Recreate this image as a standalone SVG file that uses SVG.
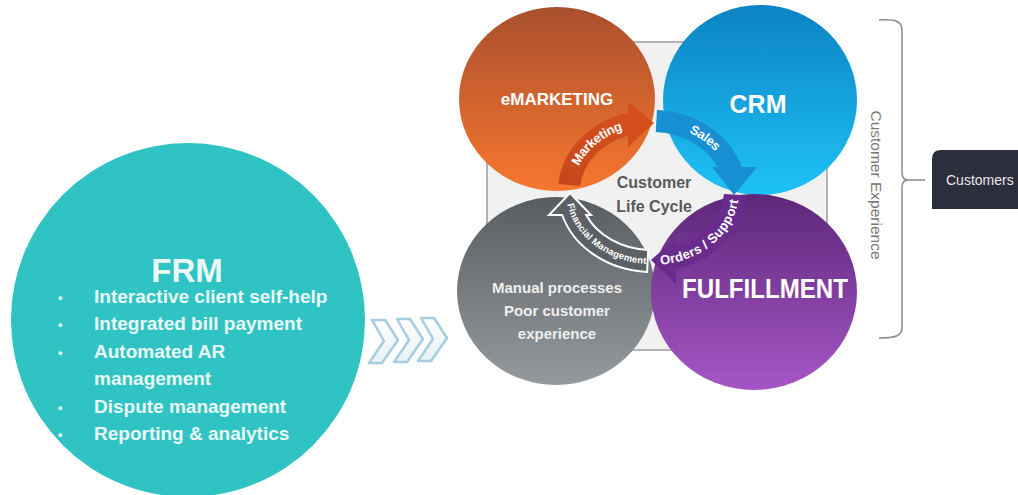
<svg xmlns="http://www.w3.org/2000/svg" width="1018" height="495" viewBox="0 0 1018 495">
<style>
.b{font-family:"Liberation Sans",Arial,sans-serif;font-weight:bold}
.r{font-family:"Liberation Sans",Arial,sans-serif}
.frmt{fill:#eaf8f8;font-size:19px}
.bul{fill:#eaf8f8;font-size:13px}
.circ-t{fill:#ffffff}
.man{fill:#eeeeee;font-size:15px}
.lbl{fill:#ffffff;font-size:13px}
.chev{fill:url(#gChev);stroke:#a6cde0;stroke-width:2.5;stroke-linejoin:round}
</style>
<defs>
<linearGradient id="gOr" x1="0" y1="0" x2="0" y2="1"><stop offset="0" stop-color="#a94f2d"/><stop offset="1" stop-color="#f7772f"/></linearGradient>
<linearGradient id="gBl" x1="0" y1="0" x2="0" y2="1"><stop offset="0" stop-color="#0b83c2"/><stop offset="1" stop-color="#1ec2f6"/></linearGradient>
<linearGradient id="gGr" x1="0" y1="0" x2="0" y2="1"><stop offset="0" stop-color="#595d62"/><stop offset="1" stop-color="#959a9f"/></linearGradient>
<linearGradient id="gPu" x1="0" y1="0" x2="0" y2="1"><stop offset="0" stop-color="#5c2779"/><stop offset="1" stop-color="#a656c6"/></linearGradient>
<linearGradient id="gChev" x1="0" y1="0" x2="0" y2="1"><stop offset="0" stop-color="#ffffff"/><stop offset="1" stop-color="#e6f1f7"/></linearGradient>
<linearGradient id="gMk" x1="0" y1="1" x2="1" y2="0"><stop offset="0" stop-color="#c7461c"/><stop offset="1" stop-color="#d9521f"/></linearGradient>
<path id="chev" d="M3,0 H16 L29,20 L13,43 H0 L15,21 Z"/>
<path id="pMk" d="M571.8,172.9 A83 70 0 0 1 630.5,123.4"/>
<path id="pSa" d="M663.6,121.7 A83 70 0 0 1 732.2,172.9"/>
<path id="pOr" d="M649.1,261 A83 70 0 0 0 735,193.4"/>
<path id="pFi" d="M569.8,200.7 A83 70 0 0 0 649.1,261"/>
</defs>
<rect width="1018" height="495" fill="#ffffff"/>

<g id="frm">
<circle cx="188" cy="320" r="177" fill="#2fc4c3"/>
<text class="b" x="187" y="282" font-size="33" fill="#eaf8f8" text-anchor="middle">FRM</text>
<g class="b bul"><text x="58" y="302">•</text><text x="58" y="329">•</text><text x="58" y="357">•</text><text x="58" y="412">•</text><text x="58" y="439">•</text></g>
<g class="b frmt">
<text x="94" y="303">Interactive client self-help</text>
<text x="94" y="330">Integrated bill payment</text>
<text x="94" y="358">Automated AR</text>
<text x="94" y="385">management</text>
<text x="94" y="413">Dispute management</text>
<text x="94" y="440">Reporting &amp; analytics</text>
</g>
</g>

<g id="chevrons">
<use href="#chev" x="369" y="320" class="chev"/>
<use href="#chev" x="394" y="319" class="chev"/>
<use href="#chev" x="418" y="318" class="chev"/>
</g>

<g id="lifecycle-bg">
<rect x="487" y="42" width="340" height="308" rx="110" ry="100" fill="#f1f1f1" stroke="#9a9a9a" stroke-width="1.5"/>
</g>

<g id="emarketing">
<ellipse cx="557" cy="99" rx="98" ry="92" fill="url(#gOr)"/>
<text class="b circ-t" x="557" y="105" font-size="17" text-anchor="middle">eMARKETING</text>
</g>
<g id="crm">
<ellipse cx="760" cy="100" rx="97" ry="95" fill="url(#gBl)"/>
<text class="b circ-t" x="758" y="113" font-size="25" text-anchor="middle">CRM</text>
</g>
<g id="manual">
<ellipse cx="556" cy="291" rx="99" ry="94" fill="url(#gGr)"/>
<g class="b man" text-anchor="middle">
<text x="557" y="293">Manual processes</text>
<text x="557" y="316">Poor customer</text>
<text x="557" y="339">experience</text>
</g>
</g>
<g id="fulfillment">
<ellipse cx="754" cy="292" rx="103" ry="98" fill="url(#gPu)"/>
<text class="b circ-t" x="765" y="298" font-size="27" text-anchor="middle" textLength="166" lengthAdjust="spacingAndGlyphs">FULFILLMENT</text>
</g>

<g id="center-label" class="b" fill="#595959" font-size="16" text-anchor="middle">
<text x="654" y="188">Customer</text>
<text x="654" y="212">Life Cycle</text>
</g>

<g id="connectors">
<path d="M558.4,183.9 A94 81 0 0 1 628,112.7 L628,101 L654,123 L628,147 L628,135.4 A72 59 0 0 0 580.3,185.9 Z" fill="url(#gMk)"/>
<path d="M656.9,110.1 A94 81 0 0 1 741.8,167 L757,167 L734,195 L712,167 L717.8,167 A72 59 0 0 0 655.8,132.1 Z" fill="#1690d2"/>
<path d="M745.9,195.2 A94 81 0 0 1 676,269.3 L676,284 L651,260 L676,238 L676,246.6 A72 59 0 0 0 723.9,194.1 Z" fill="#6a2c8c"/>
<path d="M647.1,271.9 A94 81 0 0 1 562.2,215 L549,215 L570,193 L591,215 L586.2,215 A72 59 0 0 0 648.2,249.9 Z" fill="#5c6065" stroke="#ffffff" stroke-width="2" stroke-linejoin="miter"/>
<text class="b lbl" dy="4"><textPath href="#pMk" startOffset="50%" text-anchor="middle">Marketing</textPath></text>
<text class="b lbl" dy="4"><textPath href="#pSa" startOffset="50%" text-anchor="middle">Sales</textPath></text>
<text class="b lbl" dy="4"><textPath href="#pOr" startOffset="52%" text-anchor="middle">Orders / Support</textPath></text>
<text class="b" fill="#ffffff" font-size="9.5" dy="3"><textPath href="#pFi" startOffset="50%" text-anchor="middle">Financial Management</textPath></text>
</g>

<g id="bracket">
<path d="M879,20 C895,19 902,21 902,30 L902,172 C902,178 904,180 908,180 C904,180 902,182 902,188 L902,328 C902,336 895,338 879,338" fill="none" stroke="#8a8a8a" stroke-width="1.5"/>
<path d="M906,180 H925" fill="none" stroke="#8a8a8a" stroke-width="1.5"/>
<text class="r" x="871" y="185" font-size="15.5" fill="#777777" text-anchor="middle" transform="rotate(90 871 185)">Customer Experience</text>
</g>

<g id="customers">
<path d="M932,159 Q932,150 941,150 H1018 V209 H932 Z" fill="#2d2e3b"/>
<text class="r" x="946" y="185" font-size="14" fill="#e8e8ec">Customers</text>
</g>
</svg>
